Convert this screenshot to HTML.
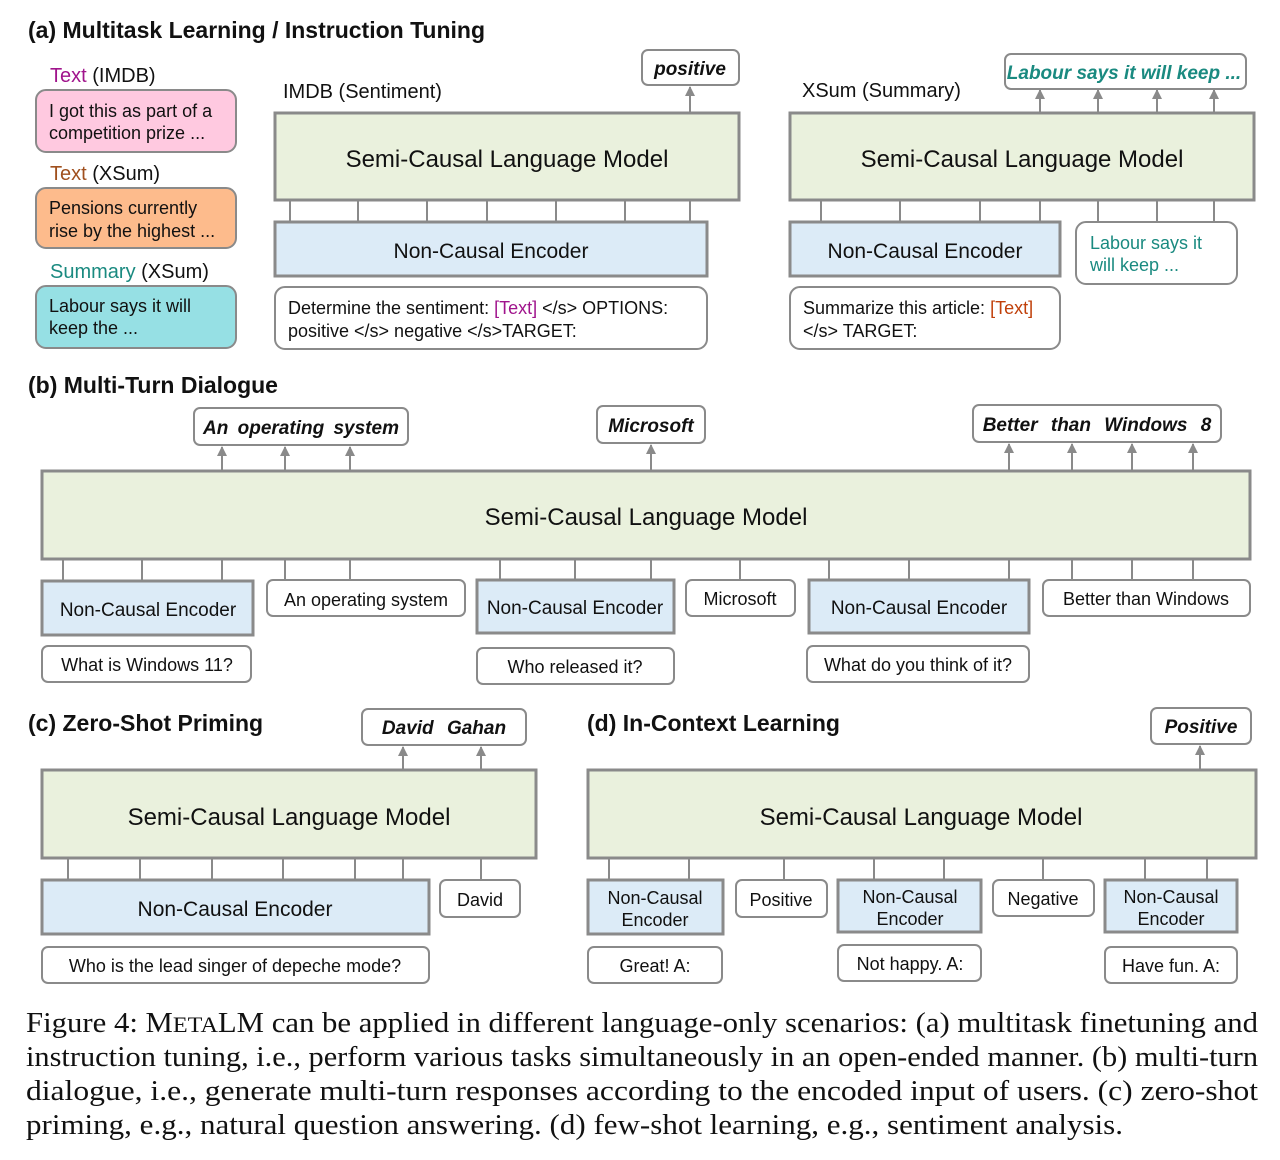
<!DOCTYPE html>
<html><head><meta charset="utf-8"><style>
html,body{margin:0;padding:0;background:#fff}
svg{display:block}
text{font-family:"Liberation Sans",sans-serif;fill:#111}
.g{fill:#eaf1dd;stroke:#8a8a8a;stroke-width:3}
.b{fill:#dcebf7;stroke:#8a8a8a;stroke-width:3}
.w{fill:#fff;stroke:#8a8a8a;stroke-width:2}
.l{stroke:#8a8a8a;stroke-width:2;fill:none}
.t{font-weight:bold;font-size:23px}
.m{font-size:24px}
.e{font-size:20px}
.s{font-size:18px}
.o{font-style:italic;font-weight:bold;font-size:19px}
.cap{font-family:"Liberation Serif",serif;font-size:28px}
</style></head><body>
<svg width="1280" height="1160" viewBox="0 0 1280 1160" xmlns="http://www.w3.org/2000/svg">
<defs><marker id="a" viewBox="0 0 10 10" refX="9" refY="5" markerWidth="5" markerHeight="5" orient="auto"><path d="M0,0 L10,5 L0,10z" fill="#8a8a8a"/></marker></defs>

<!-- (a) -->
<text x="28" y="38" class="t">(a) Multitask Learning / Instruction Tuning</text>
<text x="50" y="82" class="e"><tspan style="fill:#a0148c">Text</tspan> (IMDB)</text>
<rect x="36" y="90" width="200" height="62" rx="10" fill="#ffc9e0" stroke="#8a8a8a" stroke-width="2"/>
<text x="49" y="117" class="s">I got this as part of a</text><text x="49" y="139" class="s">competition prize ...</text>
<text x="50" y="180" class="e"><tspan style="fill:#a0501e">Text</tspan> (XSum)</text>
<rect x="36" y="188" width="200" height="60" rx="10" fill="#fdbb8c" stroke="#8a8a8a" stroke-width="2"/>
<text x="49" y="214" class="s">Pensions currently</text><text x="49" y="237" class="s">rise by the highest ...</text>
<text x="50" y="278" class="e"><tspan style="fill:#1a8a80">Summary</tspan> (XSum)</text>
<rect x="36" y="286" width="200" height="62" rx="10" fill="#96e0e4" stroke="#8a8a8a" stroke-width="2"/>
<text x="49" y="312" class="s">Labour says it will</text><text x="49" y="334" class="s">keep the ...</text>

<text x="283" y="98" class="e">IMDB (Sentiment)</text>
<rect x="642" y="50" width="97" height="35" rx="6" class="w"/>
<text x="690" y="75" class="o" text-anchor="middle">positive</text>
<line x1="690" y1="112" x2="690" y2="87" class="l" marker-end="url(#a)"/>
<rect x="275" y="113" width="464" height="87" class="g"/>
<text x="507" y="167" class="m" text-anchor="middle">Semi-Causal Language Model</text>
<g class="l"><path d="M290 200V222M358 200V222M427 200V222M487 200V222M556 200V222M625 200V222M690 200V222"/></g>
<rect x="275" y="222" width="432" height="54" class="b"/>
<text x="491" y="258" class="e" text-anchor="middle" style="font-size:21px">Non-Causal Encoder</text>
<rect x="275" y="287" width="432" height="62" rx="10" class="w"/>
<text x="288" y="314" class="s">Determine the sentiment: <tspan style="fill:#a0148c">[Text]</tspan> &lt;/s&gt; OPTIONS:</text>
<text x="288" y="337" class="s">positive &lt;/s&gt; negative &lt;/s&gt;TARGET:</text>

<text x="802" y="97" class="e">XSum (Summary)</text>
<rect x="1005" y="54" width="241" height="35" rx="6" class="w"/>
<text x="1124" y="79" class="o" text-anchor="middle" style="fill:#1a8a80">Labour says it will keep ...</text>
<g class="l" marker-end="url(#a)">
<line x1="1040" y1="112" x2="1040" y2="90"/><line x1="1098" y1="112" x2="1098" y2="90"/><line x1="1157" y1="112" x2="1157" y2="90"/><line x1="1214" y1="112" x2="1214" y2="90"/>
</g>
<rect x="790" y="113" width="464" height="87" class="g"/>
<text x="1022" y="167" class="m" text-anchor="middle">Semi-Causal Language Model</text>
<g class="l"><path d="M821 200V222M900 200V222M980 200V222M1040 200V222M1098 200V222M1157 200V222M1214 200V222"/></g>
<rect x="790" y="222" width="270" height="54" class="b"/>
<text x="925" y="258" class="e" text-anchor="middle" style="font-size:21px">Non-Causal Encoder</text>
<rect x="1076" y="222" width="161" height="62" rx="10" class="w"/>
<text x="1090" y="249" class="s" style="fill:#1a8a80">Labour says it</text><text x="1090" y="271" class="s" style="fill:#1a8a80">will keep ...</text>
<rect x="790" y="287" width="270" height="62" rx="10" class="w"/>
<text x="803" y="314" class="s">Summarize this article: <tspan style="fill:#c0400a">[Text]</tspan></text>
<text x="803" y="337" class="s">&lt;/s&gt; TARGET:</text>

<!-- (b) -->
<text x="28" y="393" class="t">(b) Multi-Turn Dialogue</text>
<rect x="194" y="408" width="214" height="37" rx="6" class="w"/>
<text x="301" y="434" class="o" text-anchor="middle" word-spacing="4">An operating system</text>
<rect x="597" y="406" width="108" height="37" rx="6" class="w"/>
<text x="651" y="432" class="o" text-anchor="middle">Microsoft</text>
<rect x="973" y="405" width="248" height="37" rx="6" class="w"/>
<text x="1097" y="431" class="o" text-anchor="middle" word-spacing="8">Better than Windows 8</text>
<g class="l" marker-end="url(#a)">
<line x1="222" y1="470" x2="222" y2="447"/><line x1="285" y1="470" x2="285" y2="447"/><line x1="350" y1="470" x2="350" y2="447"/>
<line x1="651" y1="470" x2="651" y2="445"/>
<line x1="1009" y1="470" x2="1009" y2="444"/><line x1="1072" y1="470" x2="1072" y2="444"/><line x1="1132" y1="470" x2="1132" y2="444"/><line x1="1193" y1="470" x2="1193" y2="444"/>
</g>
<rect x="42" y="471" width="1208" height="88" class="g"/>
<text x="646" y="525" class="m" text-anchor="middle">Semi-Causal Language Model</text>
<g class="l"><path d="M63 559V581M142 559V581M222 559V581M285 559V580M350 559V580M500 559V580M575 559V580M651 559V580M740 559V580M829 559V580M909 559V580M1009 559V580M1072 559V580M1132 559V580M1193 559V580"/></g>
<rect x="42" y="581" width="211" height="54" class="b"/>
<text x="148" y="616" class="s" text-anchor="middle" style="font-size:19px">Non-Causal Encoder</text>
<rect x="267" y="580" width="198" height="36" rx="6" class="w"/>
<text x="366" y="606" class="s" text-anchor="middle">An operating system</text>
<rect x="477" y="580" width="197" height="53" class="b"/>
<text x="575" y="614" class="s" text-anchor="middle" style="font-size:19px">Non-Causal Encoder</text>
<rect x="686" y="580" width="109" height="36" rx="6" class="w"/>
<text x="740" y="605" class="s" text-anchor="middle">Microsoft</text>
<rect x="809" y="580" width="220" height="53" class="b"/>
<text x="919" y="614" class="s" text-anchor="middle" style="font-size:19px">Non-Causal Encoder</text>
<rect x="1043" y="580" width="207" height="36" rx="6" class="w"/>
<text x="1146" y="605" class="s" text-anchor="middle">Better than Windows</text>
<rect x="42" y="646" width="209" height="36" rx="6" class="w"/>
<text x="147" y="671" class="s" text-anchor="middle">What is Windows 11?</text>
<rect x="477" y="648" width="197" height="36" rx="6" class="w"/>
<text x="575" y="673" class="s" text-anchor="middle">Who released it?</text>
<rect x="807" y="646" width="222" height="36" rx="6" class="w"/>
<text x="918" y="671" class="s" text-anchor="middle">What do you think of it?</text>

<!-- (c) -->
<text x="28" y="731" class="t">(c) Zero-Shot Priming</text>
<rect x="362" y="709" width="164" height="36" rx="6" class="w"/>
<text x="444" y="734" class="o" text-anchor="middle" word-spacing="8">David Gahan</text>
<line x1="403" y1="769" x2="403" y2="747" class="l" marker-end="url(#a)"/>
<line x1="481" y1="769" x2="481" y2="747" class="l" marker-end="url(#a)"/>
<rect x="42" y="770" width="494" height="88" class="g"/>
<text x="289" y="825" class="m" text-anchor="middle">Semi-Causal Language Model</text>
<g class="l"><path d="M68 858V880M140 858V880M212 858V880M283 858V880M355 858V880M403 858V880M481 858V880"/></g>
<rect x="42" y="880" width="387" height="54" class="b"/>
<text x="235" y="916" class="e" text-anchor="middle" style="font-size:21px">Non-Causal Encoder</text>
<rect x="440" y="880" width="80" height="37" rx="6" class="w"/>
<text x="480" y="906" class="s" text-anchor="middle">David</text>
<rect x="42" y="947" width="387" height="36" rx="6" class="w"/>
<text x="235" y="972" class="s" text-anchor="middle">Who is the lead singer of depeche mode?</text>

<!-- (d) -->
<text x="587" y="731" class="t">(d) In-Context Learning</text>
<rect x="1151" y="708" width="100" height="36" rx="6" class="w"/>
<text x="1201" y="733" class="o" text-anchor="middle">Positive</text>
<line x1="1200" y1="769" x2="1200" y2="746" class="l" marker-end="url(#a)"/>
<rect x="588" y="770" width="668" height="88" class="g"/>
<text x="921" y="825" class="m" text-anchor="middle">Semi-Causal Language Model</text>
<g class="l"><path d="M609 858V880M689 858V880M784 858V880M874 858V880M944 858V880M1043 858V880M1145 858V880M1207 858V880"/></g>
<rect x="588" y="880" width="135" height="54" class="b"/>
<text x="655" y="904" class="s" text-anchor="middle">Non-Causal</text><text x="655" y="926" class="s" text-anchor="middle">Encoder</text>
<rect x="736" y="880" width="91" height="37" rx="6" class="w"/>
<text x="781" y="906" class="s" text-anchor="middle">Positive</text>
<rect x="838" y="880" width="143" height="52" class="b"/>
<text x="910" y="903" class="s" text-anchor="middle">Non-Causal</text><text x="910" y="925" class="s" text-anchor="middle">Encoder</text>
<rect x="993" y="880" width="101" height="36" rx="6" class="w"/>
<text x="1043" y="905" class="s" text-anchor="middle">Negative</text>
<rect x="1105" y="880" width="132" height="52" class="b"/>
<text x="1171" y="903" class="s" text-anchor="middle">Non-Causal</text><text x="1171" y="925" class="s" text-anchor="middle">Encoder</text>
<rect x="588" y="947" width="134" height="36" rx="6" class="w"/>
<text x="655" y="972" class="s" text-anchor="middle">Great! A:</text>
<rect x="838" y="945" width="143" height="36" rx="6" class="w"/>
<text x="910" y="970" class="s" text-anchor="middle">Not happy. A:</text>
<rect x="1105" y="947" width="132" height="36" rx="6" class="w"/>
<text x="1171" y="972" class="s" text-anchor="middle">Have fun. A:</text>

<!-- caption -->
<text x="26" y="1032" class="cap" textLength="1232" lengthAdjust="spacingAndGlyphs">Figure 4: M<tspan font-size="22">ETA</tspan>LM can be applied in different language-only scenarios: (a) multitask finetuning and</text>
<text x="26" y="1066" class="cap" textLength="1232" lengthAdjust="spacingAndGlyphs">instruction tuning, i.e., perform various tasks simultaneously in an open-ended manner. (b) multi-turn</text>
<text x="26" y="1100" class="cap" textLength="1232" lengthAdjust="spacingAndGlyphs">dialogue, i.e., generate multi-turn responses according to the encoded input of users. (c) zero-shot</text>
<text x="26" y="1134" class="cap" textLength="1097" lengthAdjust="spacingAndGlyphs">priming, e.g., natural question answering. (d) few-shot learning, e.g., sentiment analysis.</text>
</svg>
</body></html>
